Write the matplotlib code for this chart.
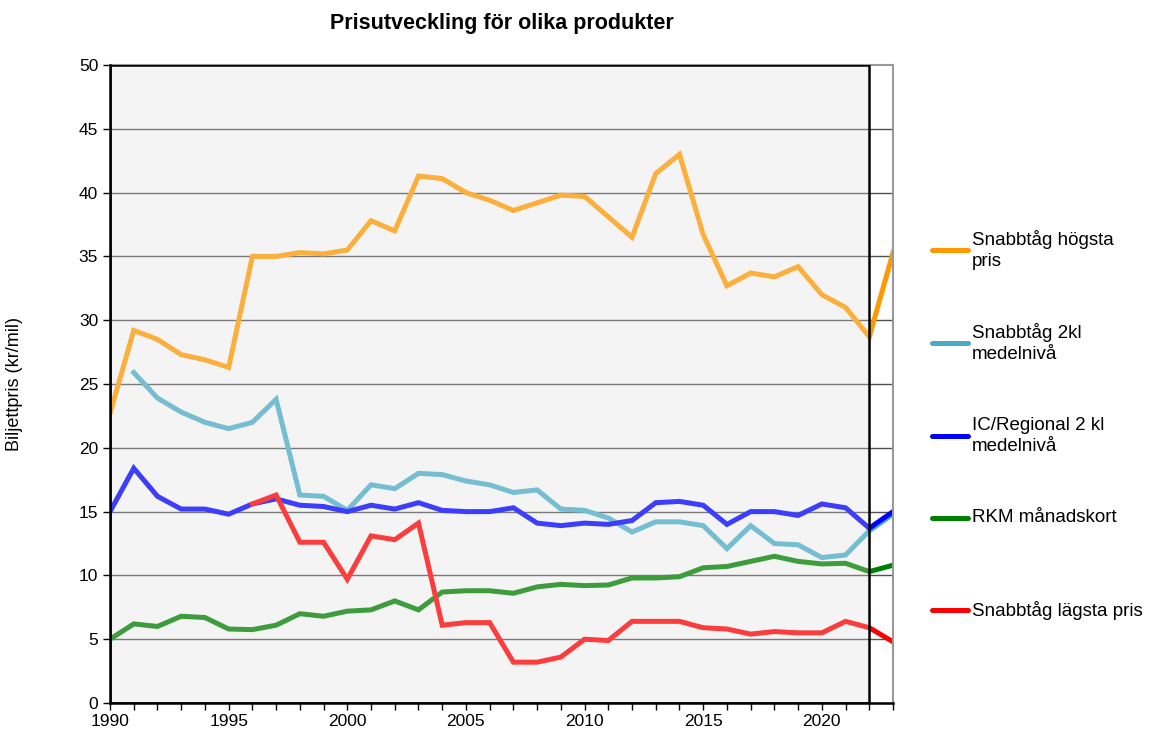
import matplotlib
matplotlib.use("Agg")
import matplotlib.pyplot as plt
from matplotlib.patches import Rectangle
from matplotlib.lines import Line2D
from matplotlib.ticker import MultipleLocator, FuncFormatter

plt.rcParams['font.family'] = ['Liberation Sans', 'DejaVu Sans']

# år
years = list(range(1990, 2024))

# Snabbtåg högsta pris (1990-2023)
snabb_hogsta = [22.7, 29.2, 28.5, 27.3, 26.9, 26.3, 35.0, 35.0, 35.3, 35.2,
                35.5, 37.8, 37.0, 41.3, 41.1, 40.0, 39.4, 38.6, 39.2, 39.8,
                39.7, 38.1, 36.5, 41.5, 43.0, 36.7, 32.7, 33.7, 33.4, 34.2,
                32.0, 31.0, 28.7, 35.3]

# Snabbtåg 2kl medelnivå (1991-2023)
snabb_2kl_years = list(range(1991, 2024))
snabb_2kl = [25.9, 23.9, 22.8, 22.0, 21.5, 22.0, 23.8, 16.3, 16.2,
             15.1, 17.1, 16.8, 18.0, 17.9, 17.4, 17.1, 16.5, 16.7, 15.2,
             15.1, 14.5, 13.4, 14.2, 14.2, 13.9, 12.1, 13.9, 12.5, 12.4,
             11.4, 11.6, 13.5, 14.8]

# IC/Regional 2 kl medelnivå (1990-2023)
ic_regional = [15.0, 18.4, 16.2, 15.2, 15.2, 14.8, 15.6, 16.0, 15.5, 15.4,
               15.0, 15.5, 15.2, 15.7, 15.1, 15.0, 15.0, 15.3, 14.1, 13.9,
               14.1, 14.0, 14.3, 15.7, 15.8, 15.5, 14.0, 15.0, 15.0, 14.7,
               15.6, 15.3, 13.7, 15.0]

# RKM månadskort (1990-2023)
rkm = [5.0, 6.2, 6.0, 6.8, 6.7, 5.8, 5.75, 6.1, 7.0, 6.8,
       7.2, 7.3, 8.0, 7.3, 8.7, 8.8, 8.8, 8.6, 9.1, 9.3,
       9.2, 9.25, 9.8, 9.8, 9.9, 10.6, 10.7, 11.1, 11.5, 11.1,
       10.9, 10.95, 10.3, 10.8]

# Snabbtåg lägsta pris (1996-2023)
snabb_lagsta_years = list(range(1996, 2024))
snabb_lagsta = [15.6, 16.3, 12.6, 12.6, 9.7, 13.1, 12.8, 14.1, 6.1, 6.3,
                6.3, 3.2, 3.2, 3.6, 5.0, 4.9, 6.4, 6.4, 6.4, 5.9,
                5.8, 5.4, 5.6, 5.5, 5.5, 6.4, 5.9, 4.8]

series = [
    (years, snabb_hogsta, '#ff9900', 'Snabbtåg högsta\npris'),
    (snabb_2kl_years, snabb_2kl, '#4bacc6', 'Snabbtåg 2kl\nmedelnivå'),
    (years, ic_regional, '#0000ff', 'IC/Regional 2 kl\nmedelnivå'),
    (years, rkm, '#008000', 'RKM månadskort'),
    (snabb_lagsta_years, snabb_lagsta, '#ff0000', 'Snabbtåg lägsta pris'),
]

fig = plt.figure(figsize=(11.52, 7.38), dpi=100)
ax = fig.add_axes([0.0955, 0.0474, 0.6797, 0.8645])

ax.set_xlim(1990, 2023)
ax.set_ylim(0, 50)

# grå bakgrund för historiska år
ax.add_patch(Rectangle((1990, 0), 32, 50, facecolor='#f4f4f4',
                       edgecolor='none', zorder=0))

for yv in range(5, 50, 5):
    ax.axhline(yv, color='#505050', lw=1, zorder=1)

for x, y, c, lab in series:
    ax.plot(x, y, color=c, lw=3.6, zorder=2, solid_joinstyle='miter')

# ljus slöja över historiken, ram runt
ax.add_patch(Rectangle((1990, 0), 32, 50, facecolor='#f4f4f4', alpha=0.25,
                       edgecolor='none', zorder=3))
ax.add_patch(Rectangle((1990, 0), 32, 50, facecolor='none',
                       edgecolor='black', lw=1.8, zorder=4))

for side in ['top', 'right']:
    ax.spines[side].set_color('#999999')
    ax.spines[side].set_linewidth(1.5)
for side in ['left', 'bottom']:
    ax.spines[side].set_color('black')
    ax.spines[side].set_linewidth(1.8)
    ax.spines[side].set_zorder(5)

ax.xaxis.set_major_locator(MultipleLocator(1))
ax.xaxis.set_major_formatter(FuncFormatter(lambda v, p: f"{int(v)}" if int(v) % 5 == 0 else ""))
ax.yaxis.set_major_locator(MultipleLocator(5))
ax.tick_params(axis='both', direction='out', length=5, width=1, labelsize=12.5, color='black')
ax.tick_params(axis='x', pad=3)

ax.set_ylabel('Biljettpris (kr/mil)', fontsize=13, labelpad=40)
ax.set_title('Prisutveckling för olika produkter', fontsize=15.5, fontweight='bold', pad=26)

# förklaring till höger
leg_y = [250, 343, 436, 518, 610]
for (x, y, c, lab), py in zip(series, leg_y):
    fy = 1 - py / 738
    fig.add_artist(Line2D([932 / 1152, 968 / 1152], [fy, fy], color=c, lw=3.6,
                          solid_capstyle='round', transform=fig.transFigure))
    fig.text(972 / 1152, fy, lab, fontsize=13.5, va='center', ha='left', linespacing=1.3)

fig.savefig('out.png', dpi=100)
